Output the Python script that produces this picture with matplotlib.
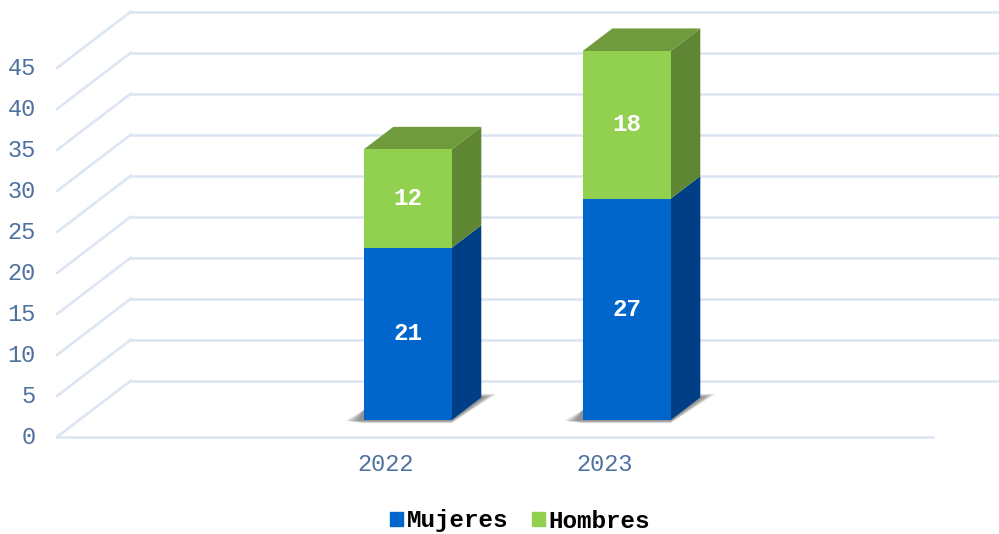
import matplotlib
matplotlib.use("Agg")
import matplotlib.pyplot as plt
from matplotlib.patches import Patch

plt.rcParams["font.family"] = ["Liberation Mono", "DejaVu Sans"]

# ---------- data ----------
years = ["2022", "2023"]
mujeres = [21, 27]
hombres = [12, 18]
y_ticks = [0, 5, 10, 15, 20, 25, 30, 35, 40, 45]

# ---------- colours ----------
GRID = "#dce6f3"
TICK = "#4f719f"
BLUE_FRONT, BLUE_SIDE = "#0066cc", "#003f85"
GREEN_FRONT, GREEN_SIDE, GREEN_TOP = "#92d050", "#5f8733", "#6f9b3c"

# ---------- layout of the fake 3d box ----------
W, H = 999, 534
X0_PX, Y0_PX = 385.5, 437   # category 0, value 0 on the front plane
CAT_PX, VAL_PX = 219, 8.2   # pixels per category / per value unit
DEPTH_X = 74 / CAT_PX       # shift of the back wall in data units
DEPTH_Y = 56.5 / VAL_PX
BAR_W = 88 / CAT_PX
BAR_D0, BAR_D1 = 0.30, 0.70  # where the bar sits between front and back
X_MIN, X_MAX = -1.5, 2.5


def proj(x, v, depth=0.0):
    return x + DEPTH_X * depth, v + DEPTH_Y * depth


def draw_quad(ax, pts, color, zorder, alpha=None):
    xs, ys = zip(*pts)
    ax.fill(xs, ys, color=color, lw=0, zorder=zorder, alpha=alpha)


def draw_side(ax, x, v0, v1, color):
    right = x + BAR_W / 2
    draw_quad(ax, [
        proj(right, v0, BAR_D0), proj(right, v0, BAR_D1),
        proj(right, v1, BAR_D1), proj(right, v1, BAR_D0),
    ], color, 4)


def draw_top(ax, x, v, color):
    left, right = x - BAR_W / 2, x + BAR_W / 2
    draw_quad(ax, [
        proj(left, v, BAR_D0), proj(right, v, BAR_D0),
        proj(right, v, BAR_D1), proj(left, v, BAR_D1),
    ], color, 4)


def draw_shadow(ax, x):
    # soft floor shadow, stacked translucent layers instead of a blur
    left, right = x - BAR_W / 2, x + BAR_W / 2
    layers = 9
    for i in range(layers):
        t = i / (layers - 1)
        low = -(0.38 - 0.3 * t)
        high = 0.45 - 0.4 * t
        draw_quad(ax, [
            proj(left - (0.085 - 0.06 * t), -0.1, BAR_D0),
            proj(left, low, BAR_D0),
            proj(right, low, BAR_D0),
            proj(right + (0.07 - 0.055 * t), high, BAR_D1),
            proj(right, high, BAR_D1),
            proj(left, 1.2, BAR_D0),
        ], "#444444", 2 + i * 0.01, alpha=0.085)


fig = plt.figure(figsize=(W / 100, H / 100), dpi=100)
ax = fig.add_axes([0, 0, 1, 1])
ax.set_xlim((0 - X0_PX) / CAT_PX, (W - X0_PX) / CAT_PX)
ax.set_ylim((Y0_PX - H) / VAL_PX, Y0_PX / VAL_PX)
ax.axis("off")

# grid: side wall and back wall
for v in y_ticks:
    x_a, y_a = proj(X_MIN, v, 0)
    x_b, y_b = proj(X_MIN, v, 1)
    ax.plot([x_a, x_b], [y_a, y_b], color=GRID, lw=1.9, zorder=1, solid_capstyle="round")
    ax.plot([x_b, proj(X_MAX, v, 1)[0]], [y_b, y_b], color=GRID, lw=1.9, zorder=1)
    ax.text(X_MIN - 21 / CAT_PX, v - 0.05, str(v), ha="right", va="center",
            fontsize=17, color=TICK)
ax.plot([X_MIN, X_MAX], [0, 0], color=GRID, lw=1.9, zorder=1)

# bars
for i, year in enumerate(years):
    total = mujeres[i] + hombres[i]
    draw_shadow(ax, i)

    bx, by = proj(i, 0, BAR_D0)
    ax.bar(bx, mujeres[i], BAR_W, bottom=by, color=BLUE_FRONT, zorder=5)
    ax.bar(bx, hombres[i], BAR_W, bottom=by + mujeres[i], color=GREEN_FRONT, zorder=5)

    draw_side(ax, i, 0, mujeres[i], BLUE_SIDE)
    draw_side(ax, i, mujeres[i], total, GREEN_SIDE)
    draw_top(ax, i, total, GREEN_TOP)

    ax.text(bx, by + mujeres[i] / 2, str(mujeres[i]), ha="center", va="center",
            color="white", fontsize=17.5, fontweight="bold", zorder=6)
    ax.text(bx, by + mujeres[i] + hombres[i] / 2, str(hombres[i]), ha="center", va="center",
            color="white", fontsize=17.5, fontweight="bold", zorder=6)
    ax.text(i, -3.3, year, ha="center", va="center", fontsize=17, color=TICK)

handles = [Patch(color=BLUE_FRONT, label="Mujeres"), Patch(color=GREEN_FRONT, label="Hombres")]
ax.legend(
    handles=handles,
    loc="center",
    bbox_to_anchor=(520 / W, 1 - 521 / H),
    ncol=2,
    frameon=False,
    prop={"size": 17.5, "weight": "bold"},
    handlelength=0.55,
    handleheight=0.55,
    handletextpad=0.15,
    columnspacing=0.97,
)

fig.savefig("out.png", dpi=100)
